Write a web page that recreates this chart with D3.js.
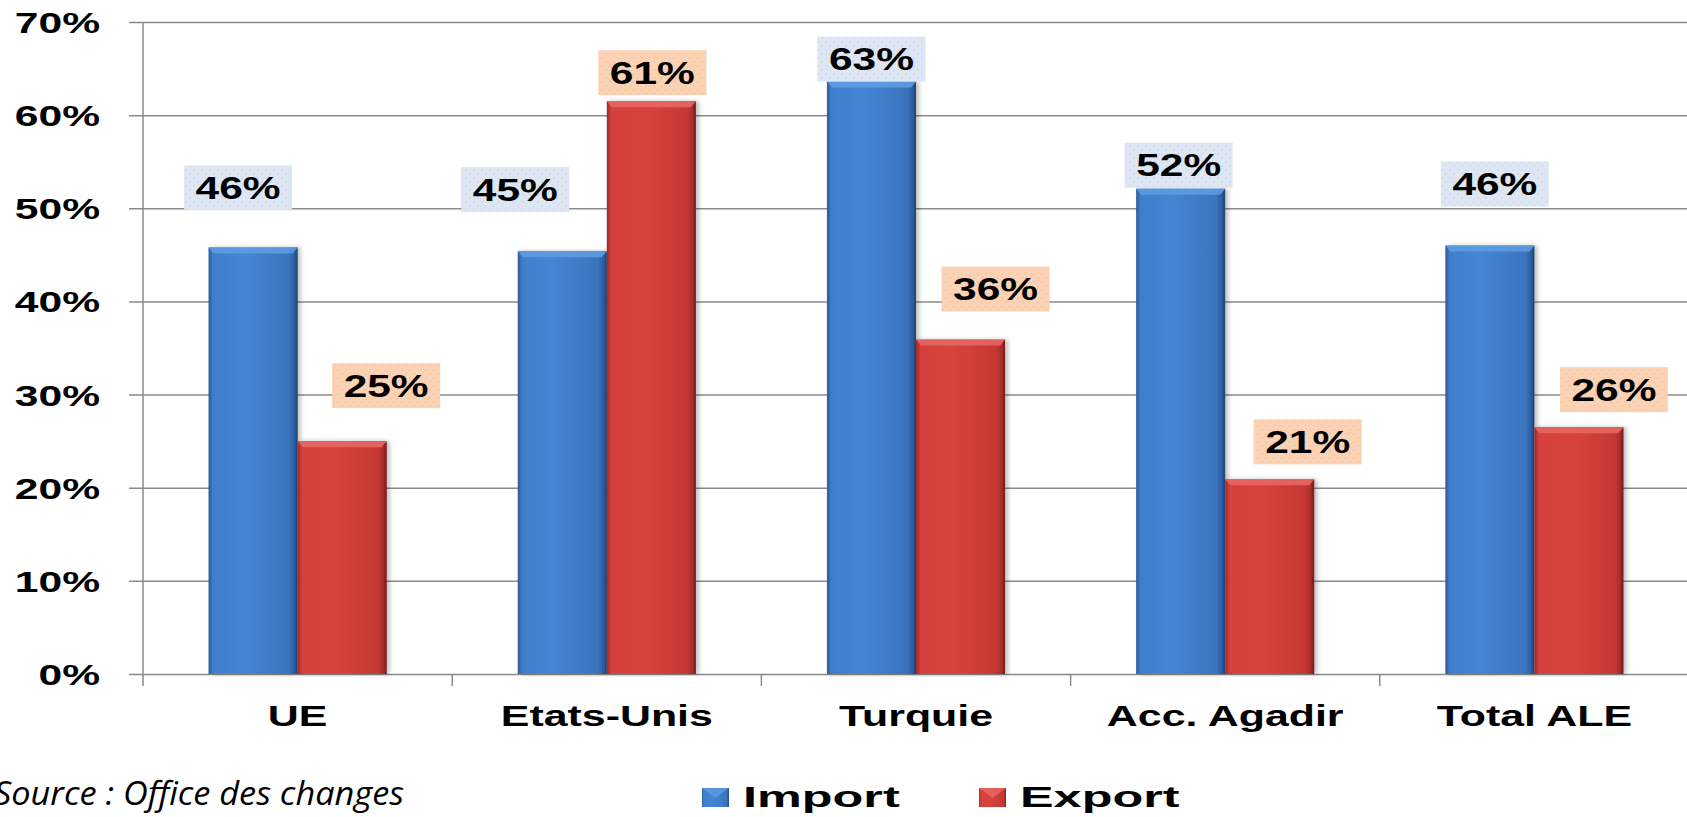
<!DOCTYPE html>
<html><head><meta charset="utf-8">
<script src="https://cdn.jsdelivr.net/npm/d3@7"></script>
<style>html,body{margin:0;padding:0;background:#fff;overflow:hidden}</style>
</head><body>
<svg id="c" width="1687" height="817"></svg>
<script>
// ---- data ----
const categories = ["UE", "Etats-Unis", "Turquie", "Acc. Agadir", "Total ALE"];
const series = ["Import", "Export"];
const importValues = [0.458, 0.454, 0.636, 0.521, 0.460];
const exportValues = [0.250, 0.615, 0.359, 0.209, 0.265];
const importLabels = ["46%", "45%", "63%", "52%", "46%"];
const exportLabels = ["25%", "61%", "36%", "21%", "26%"];
const yTicks = [0, 0.1, 0.2, 0.3, 0.4, 0.5, 0.6, 0.7];
const sourceText = "Source : Office des changes";

// ---- layout (label nudges in px: [dx, gap above bar]) ----
const importNudge = [[-15, 37], [-47, 39], [0, 0], [-2, 1], [5, 39]];
const exportNudge = [[44, 33], [1, 6], [35, 28], [38, 15], [35, 15]];

const W = 1687, H = 817;
const mLeft = 143, mRight = 1689, mTop = 22, mBottom = 674;
const svg = d3.select("#c");
const FONT = "'Liberation Sans', Arial, sans-serif";

const y = d3.scaleLinear().domain([0, 0.7]).range([mBottom, mTop]);
const x0 = d3.scaleBand().domain(categories).range([mLeft, mRight]).padding(0);
const x1 = d3.scaleBand().domain(series).range([0, x0.bandwidth()]).paddingInner(0).paddingOuter(0.736);

// defs
const defs = svg.append("defs");
function grad(id, stops) {
  const g = defs.append("linearGradient").attr("id", id).attr("x1", 0).attr("x2", 1).attr("y1", 0).attr("y2", 0);
  stops.forEach(s => g.append("stop").attr("offset", s[0]).attr("stop-color", s[1]));
}
grad("gImp", [[0, "#2a5a97"], [0.05, "#3e7fcc"], [0.4, "#4486d3"], [0.9, "#3a74bd"], [0.96, "#2d5e9f"], [1, "#23497c"]]);
grad("gExp", [[0, "#9c2826"], [0.05, "#d43f3c"], [0.4, "#d9433f"], [0.9, "#c53834"], [0.96, "#a82d2a"], [1, "#7f1f1d"]]);
const f = defs.append("filter").attr("id", "sh").attr("x", "-10%").attr("y", "-5%").attr("width", "130%").attr("height", "110%");
f.append("feDropShadow").attr("dx", 3).attr("dy", 0).attr("stdDeviation", 2).attr("flood-color", "#000").attr("flood-opacity", 0.25);
function dots(id, bg, dot) {
  const p = defs.append("pattern").attr("id", id).attr("width", 8).attr("height", 8).attr("patternUnits", "userSpaceOnUse");
  p.append("rect").attr("width", 8).attr("height", 8).attr("fill", bg);
  p.append("circle").attr("cx", 2).attr("cy", 2).attr("r", 0.8).attr("fill", dot);
  p.append("circle").attr("cx", 6).attr("cy", 6).attr("r", 0.8).attr("fill", dot);
}
dots("pImp", "#dde6f2", "#c8d3e3");
dots("pExp", "#fbd3b4", "#eebfa0");

// gridlines
svg.append("g").attr("transform", `translate(${mLeft - 14},0)`)
  .call(d3.axisRight(y).tickValues(yTicks).tickSize(W - mLeft + 14).tickFormat(""))
  .call(g => g.select(".domain").remove())
  .call(g => g.selectAll("line").attr("stroke", "#8a8a8a").attr("stroke-width", 1.5));

// y axis line
svg.append("line").attr("x1", mLeft).attr("x2", mLeft).attr("y1", y(0.7)).attr("y2", mBottom + 12)
  .attr("stroke", "#8a8a8a").attr("stroke-width", 1.5);

// x axis boundary ticks
const bounds = categories.map(c => x0(c)).concat([x0(categories[categories.length - 1]) + x0.bandwidth()]);
svg.append("g").selectAll("line").data(bounds.slice(1)).join("line")
  .attr("x1", d => d).attr("x2", d => d).attr("y1", mBottom).attr("y2", mBottom + 12)
  .attr("stroke", "#8a8a8a").attr("stroke-width", 1.5);

// helper for stretched text
function stext(parent, x, yy, txt, size, sx, anchor, opts = {}) {
  const g = parent.append("g").attr("transform", `translate(${x},${yy}) scale(${sx},1)`);
  return g.append("text").attr("text-anchor", anchor).attr("font-family", opts.family || FONT)
    .attr("font-weight", opts.weight || "bold").attr("font-style", opts.style || "normal")
    .attr("font-size", size).attr("fill", "#000").text(txt);
}

// y tick labels
const yl = svg.append("g");
yTicks.forEach(t => stext(yl, 100, y(t) + 11, d3.format(".0%")(t), 30, 1.42, "end"));

// category labels
const xl = svg.append("g");
categories.forEach(c => stext(xl, x0(c) + x0.bandwidth() / 2, 726, c, 30, 1.43, "middle"));

// bars
const rows = categories.map((c, i) => ({ c, i, vals: [importValues[i], exportValues[i]] }));
const barG = svg.append("g");
rows.forEach(r => {
  series.forEach((s, k) => {
    const v = r.vals[k];
    const bx = x0(r.c) + x1(s), bw = x1.bandwidth(), by = y(v), bh = mBottom - y(v);
    const g = barG.append("g");
    g.append("rect").attr("x", bx).attr("y", by).attr("width", bw).attr("height", bh)
      .attr("fill", k === 0 ? "url(#gImp)" : "url(#gExp)").attr("filter", "url(#sh)");
    g.append("polygon")
      .attr("points", [[bx, by], [bx + bw, by], [bx + bw - 5, by + 6], [bx + 5, by + 6]].map(p => p.join(",")).join(" "))
      .attr("fill", k === 0 ? "#5d9be2" : "#e86663").attr("opacity", 0.9);
    g.append("line").attr("x1", bx + bw - 1).attr("x2", bx + bw - 1).attr("y1", by + 2).attr("y2", mBottom)
      .attr("stroke", k === 0 ? "#1f4473" : "#741c1a").attr("stroke-width", 1.5).attr("opacity", 0.6);
  });
});

// value labels
const lblG = svg.append("g");
const BW = 108, BH = 45;
rows.forEach(r => {
  series.forEach((s, k) => {
    const v = r.vals[k];
    const nud = k === 0 ? importNudge[r.i] : exportNudge[r.i];
    const cx = x0(r.c) + x1(s) + x1.bandwidth() / 2 + nud[0];
    const bBottom = y(v) - nud[1];
    lblG.append("rect").attr("x", cx - BW / 2).attr("y", bBottom - BH).attr("width", BW).attr("height", BH)
      .attr("fill", k === 0 ? "url(#pImp)" : "url(#pExp)");
    stext(lblG, cx, bBottom - BH / 2 + 11, k === 0 ? importLabels[r.i] : exportLabels[r.i], 31, 1.37, "middle");
  });
});

// legend
const lg = svg.append("g");
const legendItems = [{ s: "Import", x: 702, fill: "url(#gImp)", top: "#5d9be2" }, { s: "Export", x: 979, fill: "url(#gExp)", top: "#e86663" }];
legendItems.forEach(d => {
  lg.append("rect").attr("x", d.x).attr("y", 788).attr("width", 27).attr("height", 19).attr("fill", d.fill);
  lg.append("polygon").attr("points", `${d.x},788 ${d.x + 27},788 ${d.x + 13.5},798`).attr("fill", d.top).attr("opacity", 0.8);
  stext(lg, d.x + 41, 807, d.s, 30, 1.68, "start");
});

// source
svg.append("text").attr("x", -6).attr("y", 805).attr("font-family", "'Open Sans', 'Noto Sans', sans-serif")
  .attr("font-style", "italic").attr("font-size", 32).attr("fill", "#000")
  .attr("textLength", 410).attr("lengthAdjust", "spacingAndGlyphs").text(sourceText);
</script>
</body></html>
